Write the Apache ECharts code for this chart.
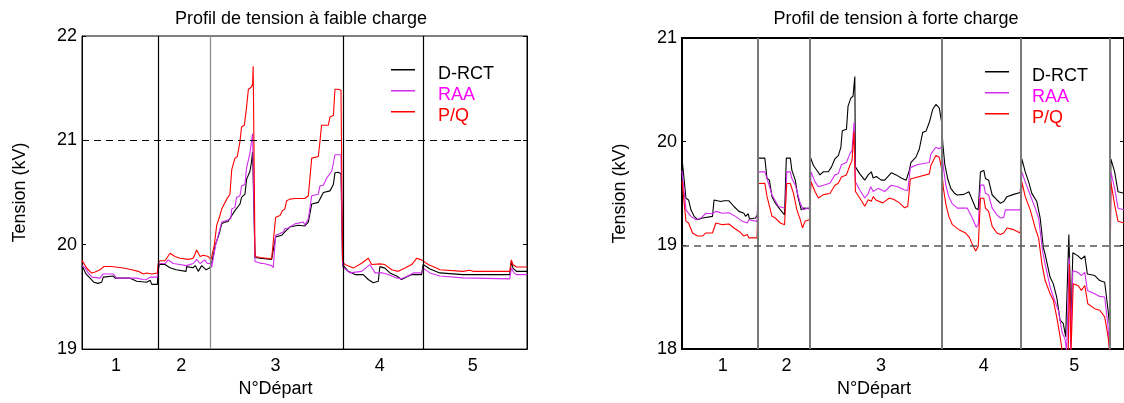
<!DOCTYPE html>
<html>
<head>
<meta charset="utf-8">
<script src="https://cdn.jsdelivr.net/npm/echarts@6.0.0/dist/echarts.min.js"></script>
<style>
  html, body { margin: 0; padding: 0; background: #ffffff; }
  #chart { width: 1124px; height: 403px; }
</style>
</head>
<body>
<div id="chart"></div>
<script>
// Noeuds du réseau numérotés le long des départs, tension en kV : [noeud, kV]
const nbNoeuds = 222;
const bornesDeparts = [38, 64, 130.3, 170.3, 215];
const departLabels = ['1', '2', '3', '4', '5'];
const labelPosFaible = [17, 49.5, 96.5, 148.5, 195];
const labelPosForte = [20.5, 52.5, 100, 151.5, 197];
const seuilFaible = 21;
const seuilForte = 19;

// Faible charge
const faibleDRCT = [
  [0,19.8],[2,19.72],[4,19.68],[6,19.64],[8,19.63],[9.8,19.64],[10.6,19.69],[15.6,19.70],[16.5,19.68],[24,19.68],[27.3,19.65],[32.3,19.64],[34,19.66],[34.8,19.62],[37.6,19.62],
  [38,19.76],[38.6,19.81],[41.4,19.81],[43.9,19.78],[47,19.76],[51.9,19.745],[52.2,19.79],[55.5,19.78],[56.5,19.8],[58,19.745],[59.7,19.8],[61.9,19.76],[63.8,19.78],
  [64.5,19.81],[65.5,19.9],[66.7,20.01],[68.2,20.09],[69.7,20.2],[71.3,20.217],[72.9,20.223],[74.7,20.28],[76.3,20.327],[77.1,20.343],[78.8,20.39],[79.6,20.453],[81.3,20.484],[82.1,20.626],[83,20.64],[83.8,20.704],[84.6,20.8],[85.1,20.89],[85.8,20.89],
  [86.3,19.877],[88.8,19.87],[94.6,19.86],[95.4,19.85],[96.6,20.075],[99.6,20.09],[101.2,20.123],[103.7,20.17],[107.9,20.186],[111.2,20.18],[112.9,20.217],[114.6,20.39],[117.9,20.406],[118.7,20.437],[120.4,20.5],[123.7,20.516],[125.4,20.578],[126.2,20.689],[127.8,20.695],[129.2,20.68],
  [130,19.81],[132.8,19.745],[136.2,19.714],[140.3,19.714],[142.8,19.667],[145.3,19.635],[147.8,19.65],[148.6,19.79],[151.1,19.776],[153.6,19.73],[157,19.7],[159.4,19.667],[161.9,19.69],[164.5,19.714],[169.4,19.714],
  [170.2,19.81],[173.6,19.768],[178.5,19.73],[190,19.714],[213.4,19.714],[214.2,19.84],[215,19.776],[216.7,19.745],[222,19.745]
];
const faibleRAA = [
  [0,19.8],[1.5,19.78],[3.1,19.73],[5,19.69],[9,19.68],[10.6,19.72],[15.6,19.72],[17.3,19.68],[27.3,19.68],[30.6,19.667],[32,19.665],[34,19.69],[37.6,19.69],
  [38,19.777],[38.6,19.82],[41.4,19.82],[43,19.855],[45.5,19.82],[48.9,19.81],[52,19.80],[55.5,19.82],[57.2,19.86],[58.9,19.82],[61.3,19.855],[62.5,19.82],[63.8,19.82],
  [64.2,19.84],[64.7,19.783],[65.5,19.87],[66.7,20.0],[68.2,20.107],[69.7,20.217],[72,20.233],[74.2,20.248],[74.7,20.343],[76.3,20.358],[77.1,20.453],[78.8,20.469],[79.6,20.563],[81.3,20.578],[82.1,20.736],[83,20.752],[83.8,20.877],[84.6,20.893],[85.1,21.066],[85.8,21.066],
  [86.3,19.84],[88.8,19.824],[91.2,19.818],[94.6,19.80],[95.4,19.78],[96.6,20.09],[98.8,20.107],[100.4,20.123],[101.2,20.154],[102.9,20.16],[103.7,20.173],[106.2,20.2],[110.4,20.217],[111.2,20.19],[112.9,20.248],[114.6,20.469],[117.9,20.484],[118.7,20.563],[120.4,20.57],[122.1,20.64],[122.9,20.657],[124.6,20.704],[126.2,20.862],[129.2,20.862],
  [130,19.79],[133.6,19.73],[139.5,19.745],[143.6,19.81],[146.2,19.73],[150,19.73],[152.8,19.714],[157,19.682],[159.4,19.673],[162.5,19.7],[165.3,19.73],[169.4,19.73],
  [170.2,19.776],[173.6,19.73],[178.5,19.70],[190,19.682],[213.4,19.673],[214.2,19.776],[215.5,19.73],[216.7,19.714],[222,19.714]
];
const faiblePQ = [
  [0,19.85],[2.3,19.777],[4.8,19.729],[6.5,19.739],[9,19.76],[11,19.792],[14.8,19.792],[15.6,19.777],[20.6,19.777],[24.8,19.761],[28.1,19.745],[30.6,19.72],[32.3,19.729],[34.8,19.72],[37.6,19.729],
  [38,19.82],[38.9,19.846],[41.4,19.846],[43.9,19.918],[46.4,19.887],[48.9,19.871],[53,19.86],[55.5,19.87],[57.2,19.95],[58.9,19.887],[60.5,19.90],[63,19.887],
  [64.3,19.855],[66,19.997],[67.2,20.186],[68.8,20.28],[69.7,20.343],[72.2,20.437],[73.8,20.484],[74.7,20.72],[76.3,20.83],[77.5,20.846],[78.8,20.988],[79.6,21.129],[81,21.145],[82.1,21.318],[83,21.49],[84.3,21.506],[85.1,21.538],[85.4,21.71],[85.8,21.71],
  [86.3,19.934],[86.6,19.887],[88.8,19.877],[92.1,19.871],[94.6,19.865],[95.4,19.855],[96.6,20.264],[98.8,20.28],[100,20.327],[101.2,20.343],[102.1,20.422],[103.7,20.437],[106.2,20.443],[111.2,20.443],[112.9,20.469],[114.6,20.83],[117.9,20.846],[118.7,20.988],[119.5,21.145],[122.9,21.145],[123.7,21.223],[125.4,21.239],[126.2,21.49],[127.8,21.49],[129.2,21.48],
  [130,19.84],[131.2,19.81],[135.3,19.776],[139.5,19.823],[142.8,19.871],[144.5,19.81],[148.6,19.817],[151.1,19.81],[154.5,19.76],[157.8,19.745],[161.1,19.776],[164.5,19.81],[167,19.871],[169.4,19.855],
  [170.2,19.84],[172.7,19.81],[176.8,19.776],[178.5,19.76],[190.1,19.745],[193.4,19.755],[195,19.745],[213.4,19.745],[214.2,19.855],[215,19.81],[216.7,19.786],[222,19.786]
];

// Forte charge
const forteDRCT = [
  [0,19.84],[0.7,19.835],[2,19.454],[3.3,19.438],[4.5,19.343],[6.1,19.28],[7.8,19.248],[10.3,19.264],[15.3,19.28],[16.1,19.438],[19.5,19.423],[21.1,19.43],[23.6,19.43],[26.1,19.375],[28.6,19.328],[31.1,19.31],[31.9,19.28],[33.3,19.305],[33.9,19.254],[36.9,19.264],[37.9,19.295],
  [38.4,19.842],[41.6,19.842],[42.7,19.645],[43.9,19.629],[45.2,19.47],[46.9,19.407],[49.4,19.343],[51.5,19.295],[52.4,19.842],[54.4,19.842],[55.2,19.724],[56.9,19.629],[58.2,19.47],[59.9,19.343],[61,19.359],[64,19.355],
  [64.5,19.851],[66,19.771],[67.7,19.725],[69.3,19.68],[71,19.71],[73.5,19.71],[75.1,19.757],[76.8,19.835],[78.5,19.866],[79.8,19.946],[80.5,20.105],[82.6,20.12],[83.4,20.343],[84.8,20.42],[85.9,20.438],[86.8,20.629],
  [87.1,19.757],[89.3,19.69],[91.8,19.629],[93.5,19.68],[95.1,19.71],[96,19.65],[97.6,19.664],[100.1,19.629],[101.8,19.629],[105.1,19.70],[107.6,19.68],[110.1,19.65],[112.6,19.629],[114.2,19.725],[115,19.80],[117.5,19.851],[119.2,19.93],[120.9,20.09],[122.5,20.1],[124.2,20.185],[125.9,20.31],[127.5,20.359],[129.2,20.327],
  [130.3,20.2],[131,19.98],[132,19.78],[133.5,19.64],[135,19.55],[137,19.5],[138.3,19.486],[141.6,19.492],[144.1,19.518],[145.8,19.438],[147.5,19.359],[148.8,19.343],[149.9,19.709],[151.6,19.724],[152.4,19.645],[154,19.629],[155.8,19.486],[158.2,19.438],[159.9,19.407],[161.6,19.423],[163.2,19.47],[166.6,19.492],[169.9,19.511],
  [170.7,19.835],[172.4,19.709],[174.1,19.613],[175.7,19.502],[178.2,19.423],[179.9,19.264],[181.5,18.978],[182.4,18.914],[184.9,18.692],[186.5,18.629],[188.2,18.502],[189.9,18.28],[191.5,18.248],[192.7,18.12],[193.7,18.104],[194.3,19.105],[194.8,19.105],[195.4,18.28],[196.3,18.93],[198.9,18.899],[200.6,18.867],[202.3,18.899],[203.6,18.724],[207.3,18.709],[209.8,18.661],[212.3,18.645],[214,18.375],[214.8,18.216],
  [215.4,19.835],[217.3,19.709],[219,19.518],[222,19.502]
];
const forteRAA = [
  [0,19.72],[0.7,19.709],[2,19.343],[4.5,19.28],[7,19.248],[9.5,19.264],[12,19.31],[15.3,19.305],[17,19.328],[20.3,19.31],[23.6,19.315],[26.9,19.28],[30.3,19.232],[32.8,19.216],[33.6,19.248],[37.7,19.232],
  [38.4,19.709],[41.6,19.709],[42.7,19.645],[45.2,19.486],[48.5,19.375],[51.9,19.359],[52.6,19.709],[54.4,19.709],[55.2,19.645],[56.9,19.581],[59.4,19.407],[61,19.343],[62.8,19.359],[64.2,19.359],
  [64.8,19.709],[66.8,19.613],[68.5,19.566],[71,19.58],[74.3,19.6],[76.8,19.68],[78.5,19.69],[80.1,19.78],[82.6,19.8],[84.3,19.883],[85.4,19.914],[86.4,20.185],
  [87.1,19.613],[89.3,19.535],[91.8,19.457],[93.5,19.5],[94.8,19.566],[96,19.52],[98.5,19.55],[101.8,19.52],[105.1,19.58],[108.4,19.566],[111.8,19.535],[113.4,19.53],[114.7,19.75],[118.4,19.78],[124.2,19.8],[125,19.88],[127.5,19.946],[129.2,19.93],
  [130.3,19.95],[131.3,19.75],[132.5,19.58],[134,19.47],[135.8,19.4],[138.3,19.359],[143.3,19.359],[145.8,19.264],[147.8,19.175],[148.8,19.2],[149.9,19.581],[151.6,19.581],[152.4,19.502],[154,19.486],[155.8,19.359],[158.2,19.295],[159.9,19.264],[161.6,19.27],[162.4,19.343],[169.9,19.343],
  [170.7,19.709],[172.4,19.613],[174.9,19.486],[177.4,19.359],[179.1,19.264],[181.1,18.946],[182.4,18.819],[184.9,18.597],[186.5,18.502],[189,18.375],[191,18.152],[192.3,18.104],[193.2,17.98],[193.9,17.98],[194.5,18.883],[195.2,17.98],[196.3,18.756],[198.9,18.74],[200.6,18.709],[202.3,18.74],[203.6,18.566],[207.3,18.533],[209.8,18.508],[212.3,18.502],[214,18.216],[214.8,17.98],
  [215.4,19.709],[217.3,19.55],[219,19.359],[222,19.343]
];
const fortePQ = [
  [0,19.62],[0.7,19.613],[2,19.232],[3.3,19.216],[5.3,19.12],[7.8,19.09],[10.3,19.09],[12,19.12],[15.3,19.12],[17,19.216],[20.3,19.2],[23.6,19.206],[26.1,19.168],[28.6,19.137],[31.1,19.09],[32.8,19.105],[33.6,19.073],[37.7,19.073],
  [38.4,19.597],[41.6,19.6],[42.7,19.47],[45.2,19.28],[46.9,19.264],[49.4,19.216],[51.5,19.2],[52.6,19.597],[54.4,19.597],[56,19.502],[57.7,19.343],[59.4,19.248],[60.5,19.168],[61.8,19.232],[64,19.248],
  [64.8,19.613],[66.8,19.52],[68.5,19.457],[71,19.49],[74.3,19.5],[76.8,19.58],[78.5,19.6],[80.1,19.66],[82.6,19.68],[84.3,19.77],[85.4,19.82],[86.4,20.1],
  [87.1,19.52],[89.3,19.457],[91.8,19.378],[93.5,19.44],[95.1,19.425],[96,19.47],[97.6,19.435],[100.9,19.41],[104.2,19.457],[106.7,19.44],[109.2,19.41],[111.8,19.362],[113.4,19.378],[114.7,19.64],[118.4,19.66],[124.2,19.69],[125,19.77],[127.5,19.866],[129.2,19.85],
  [130.3,19.75],[131.3,19.55],[132.5,19.4],[134,19.28],[135.8,19.2],[139.1,19.152],[142.4,19.12],[144.5,19.073],[145.8,19.01],[147.5,18.946],[148.8,18.993],[149.9,19.454],[151.6,19.454],[152.4,19.359],[154,19.328],[155.8,19.184],[158.2,19.12],[159.9,19.105],[161.6,19.12],[163.2,19.168],[166.6,19.152],[169.9,19.12],
  [170.7,19.613],[172.4,19.47],[174.9,19.343],[177.4,19.168],[179.1,19.073],[180.8,18.819],[182.4,18.661],[184.9,18.533],[186.5,18.47],[188.2,18.311],[189.9,18.12],[191,17.98],[194,17.98],[194.6,18.819],[195.4,17.98],[196.5,18.629],[198.9,18.613],[200.6,18.566],[202.3,18.613],[203.8,18.438],[207.3,18.39],[209.8,18.375],[212.3,18.311],[214,18.12],[214.8,17.98],
  [215.4,19.613],[217.3,19.39],[219,19.232],[222,19.216]
];

const police = 'Liberation Sans, Arial, Helvetica, sans-serif';
const couleurs = { 'D-RCT': '#000000', 'RAA': '#d22cf0', 'P/Q': '#ff0000' };
const couleursTexte = { 'D-RCT': '#000000', 'RAA': '#ff00ff', 'P/Q': '#ff0000' };
const noms = ['D-RCT', 'RAA', 'P/Q'];
// Trait de légende : barre de 24 px en haut d'une boîte de 42 x 10
const iconeTrait = 'path://M0,0H24V1.5H0Z M41.99,9.99H42V10H41.99Z';

function courbe(nom, data, grille) {
  return {
    type: 'line', name: nom, data: data,
    xAxisIndex: grille, yAxisIndex: grille * 2,
    showSymbol: false, symbol: 'none', smooth: false, clip: true,
    lineStyle: { color: couleurs[nom], width: 1.1 },
    itemStyle: { color: couleurs[nom] },
    emphasis: { disabled: true }, silent: true, animation: false
  };
}

// Séparateurs de départs et seuil de tension
function reperes(grille, bornes, seuil, style) {
  const data = bornes.map(function (b, i) {
    return { xAxis: b, lineStyle: { type: 'solid', color: style.sepColor[i] || style.sepColor[0], width: style.sepWidth } };
  });
  data.push({ yAxis: seuil, lineStyle: { type: [7, 5], color: style.dashColor, width: style.dashWidth } });
  return {
    type: 'line', data: [], xAxisIndex: grille, yAxisIndex: grille * 2, silent: true, animation: false,
    markLine: { silent: true, symbol: 'none', label: { show: false }, animation: false, emphasis: { disabled: true }, data: data }
  };
}

function axeX(grille, positions, bordure) {
  return {
    type: 'value', gridIndex: grille, min: 0, max: nbNoeuds,
    splitLine: { show: false }, axisTick: { show: false },
    axisLine: { show: true, lineStyle: { color: '#000', width: bordure } },
    axisLabel: {
      customValues: positions, margin: 8, color: '#000', fontSize: 18, fontFamily: police,
      formatter: function (v) { const i = positions.indexOf(v); return i >= 0 ? departLabels[i] : ''; }
    },
    name: 'N°Départ', nameLocation: 'middle', nameGap: 29,
    nameTextStyle: { color: '#000', fontSize: 18, fontFamily: police, padding: [0, 58, 0, 0] }
  };
}

function axesY(grille, min, max, bordure) {
  return [{
    type: 'value', gridIndex: grille, position: 'left', min: min, max: max, interval: 1,
    splitLine: { show: false },
    axisLine: { show: true, lineStyle: { color: '#000', width: bordure } },
    axisTick: { show: true, inside: true, length: 4, lineStyle: { color: '#000' } },
    axisLabel: { margin: 5, color: '#000', fontSize: 18, fontFamily: police },
    name: 'Tension (kV)', nameLocation: 'middle', nameGap: 53,
    nameTextStyle: { color: '#000', fontSize: 18, fontFamily: police }
  }, {
    type: 'value', gridIndex: grille, position: 'right', min: min, max: max, interval: 1,
    splitLine: { show: false },
    axisLine: { show: true, lineStyle: { color: '#000', width: bordure } },
    axisTick: { show: true, inside: true, length: 4, lineStyle: { color: '#000' } },
    axisLabel: { show: false }
  }];
}

function legende(x, y) {
  return {
    left: x, top: y, orient: 'vertical', icon: iconeTrait, itemWidth: 42, itemHeight: 10, itemGap: 3,
    selectedMode: false, padding: 0,
    textStyle: { fontSize: 18, fontFamily: police },
    data: noms.map(function (n) { return { name: n, textStyle: { color: couleursTexte[n] } }; })
  };
}

const chart = echarts.init(document.getElementById('chart'), null, { renderer: 'canvas' });
chart.setOption({
  animation: false,
  backgroundColor: '#ffffff',
  title: [
    { text: 'Profil de tension à faible charge', left: 301, top: 10, textAlign: 'center', padding: 0,
      textStyle: { fontSize: 18, fontWeight: 'normal', color: '#000', fontFamily: police } },
    { text: 'Profil de tension à forte charge', left: 896, top: 10, textAlign: 'center', padding: 0,
      textStyle: { fontSize: 18, fontWeight: 'normal', color: '#000', fontFamily: police } }
  ],
  legend: [legende(391, 65), legende(985, 67)],
  grid: [
    { left: 82, top: 36, width: 445, height: 318, show: true, borderColor: '#000', borderWidth: 1 },
    { left: 682, top: 38, width: 445, height: 315, show: true, borderColor: '#000', borderWidth: 2 }
  ],
  xAxis: [axeX(0, labelPosFaible, 1), axeX(1, labelPosForte, 2)],
  yAxis: axesY(0, 19, 22, 1).concat(axesY(1, 18, 21, 2)),
  series: [
    reperes(0, bornesDeparts.slice(0, 4), seuilFaible,
      { sepColor: ['#000', '#8a8a8a', '#000', '#000'], sepWidth: 1.2, dashColor: '#000', dashWidth: 1.2 }),
    reperes(1, bornesDeparts, seuilForte,
      { sepColor: ['#7a7a7a'], sepWidth: 2, dashColor: '#555', dashWidth: 1.6 }),
    courbe('D-RCT', faibleDRCT, 0), courbe('RAA', faibleRAA, 0), courbe('P/Q', faiblePQ, 0),
    courbe('D-RCT', forteDRCT, 1), courbe('RAA', forteRAA, 1), courbe('P/Q', fortePQ, 1)
  ]
});
</script>
</body>
</html>
